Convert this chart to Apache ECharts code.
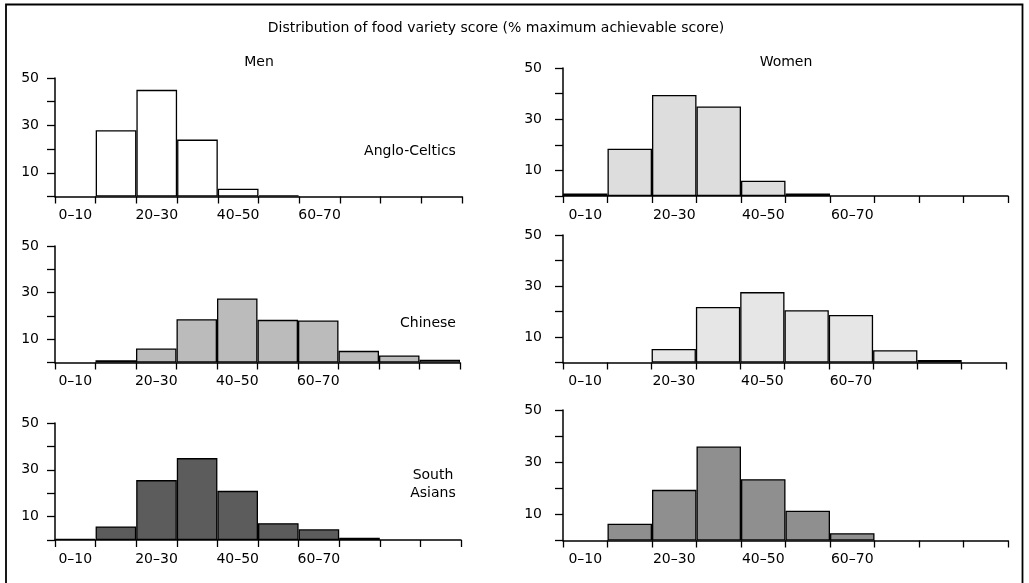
<!DOCTYPE html>
<html>
<head>
<meta charset="utf-8">
<script src="https://cdn.jsdelivr.net/npm/echarts@6/dist/echarts.min.js"></script>
<style>
html,body{margin:0;padding:0;background:#fff;}
#chart{width:1029px;height:583px;}
</style>
</head>
<body>
<div id="chart"></div>
<script>
// ---- data ----
const categories = ['0–10','10–20','20–30','30–40','40–50','50–60','60–70','70–80','80–90','90–100'];
const xTickLabels = ['0–10','20–30','40–50','60–70'];
const yTickLabels = [10, 30, 50];
const titleText = 'Distribution of food variety score (% maximum achievable score)';
const genders = ['Men', 'Women'];
const groups = ['Anglo-Celtics', 'Chinese', 'South\nAsians'];

const menAngloCeltic   = [0, 28, 45, 24, 3.3, 0.5, 0, 0, 0, 0];
const womenAngloCeltic = [1, 18.5, 39.5, 35, 6, 1, 0, 0, 0, 0];
const menChinese       = [0, 1, 6, 18.6, 27.5, 18.3, 18, 5, 3, 1.2];
const womenChinese     = [0, 0, 5.3, 21.8, 27.6, 20.5, 18.6, 4.8, 1, 0];
const menSouthAsian    = [0.5, 5.8, 25.6, 35, 21, 7.2, 4.6, 1, 0, 0];
const womenSouthAsian  = [0, 6.4, 19.4, 36, 23.5, 11.4, 2.8, 0, 0, 0];

// ---- layout / style ----
const FONT = 'DejaVu Sans';
const panels = [
  {data: menAngloCeltic,   color: '#ffffff', left: 55,  width: 407, top: 78,  height: 118.5, ym: 16},
  {data: womenAngloCeltic, color: '#dddddd', left: 563, width: 445, top: 68,  height: 128,   ym: 21},
  {data: menChinese,       color: '#bbbbbb', left: 55,  width: 405, top: 246, height: 116.5, ym: 16},
  {data: womenChinese,     color: '#e6e6e6', left: 563, width: 443, top: 235, height: 127.5, ym: 21},
  {data: menSouthAsian,    color: '#5c5c5c', left: 55,  width: 406, top: 423, height: 117,   ym: 16},
  {data: womenSouthAsian,  color: '#8f8f8f', left: 563, width: 445, top: 410, height: 130.5, ym: 21}
];

const grid = [], xAxis = [], yAxis = [], series = [];
panels.forEach((p, i) => {
  grid.push({left: p.left, top: p.top, width: p.width, height: p.height,
             containLabel: false, outerBoundsMode: 'none'});
  xAxis.push({
    type: 'category', gridIndex: i, data: categories, boundaryGap: true,
    axisLine: {lineStyle: {color: '#000', width: 1.5}},
    axisTick: {show: true, alignWithLabel: false, interval: 0, length: 7, lineStyle: {color: '#000', width: 1.3}},
    axisLabel: {interval: 0, margin: 12, color: '#000', fontFamily: FONT, fontSize: 14,
      formatter: v => xTickLabels.includes(v) ? v : ''},
    splitLine: {show: false}
  });
  yAxis.push({
    type: 'value', gridIndex: i, min: 0, max: 50, interval: 10,
    axisLine: {show: true, lineStyle: {color: '#000', width: 1.5}},
    axisTick: {show: true, length: 8, lineStyle: {color: '#000', width: 1.3}},
    axisLabel: {margin: p.ym, color: '#000', fontFamily: FONT, fontSize: 14,
      formatter: v => yTickLabels.includes(v) ? String(v) : ''},
    splitLine: {show: false}
  });
  series.push({
    type: 'bar', xAxisIndex: i, yAxisIndex: i,
    data: p.data.map(v => v === 0 ? '-' : v),
    barCategoryGap: '0%', barGap: '0%',
    itemStyle: {color: p.color, borderColor: '#000', borderWidth: 1.3},
    z: 1, silent: true, animation: false
  });
});

const textStyle = {fontFamily: FONT, fontSize: 14, fill: '#000', textAlign: 'center', textVerticalAlign: 'middle'};
const graphic = [
  {type: 'rect', shape: {x: 6, y: 4.5, width: 1016.5, height: 620}, style: {fill: 'none', stroke: '#000', lineWidth: 1.8}, silent: true},
  {type: 'text', x: 496, y: 28, style: Object.assign({text: titleText}, textStyle)},
  {type: 'text', x: 259, y: 62, style: Object.assign({text: genders[0]}, textStyle)},
  {type: 'text', x: 786, y: 62, style: Object.assign({text: genders[1]}, textStyle)},
  {type: 'text', x: 410, y: 151, style: Object.assign({text: groups[0]}, textStyle)},
  {type: 'text', x: 428, y: 323, style: Object.assign({text: groups[1]}, textStyle)},
  {type: 'text', x: 433, y: 484, style: Object.assign({text: groups[2], lineHeight: 18}, textStyle)}
];

const chart = echarts.init(document.getElementById('chart'), null, {renderer: 'canvas'});
chart.setOption({
  animation: false,
  backgroundColor: '#fff',
  grid, xAxis, yAxis, series, graphic
});
</script>
</body>
</html>
